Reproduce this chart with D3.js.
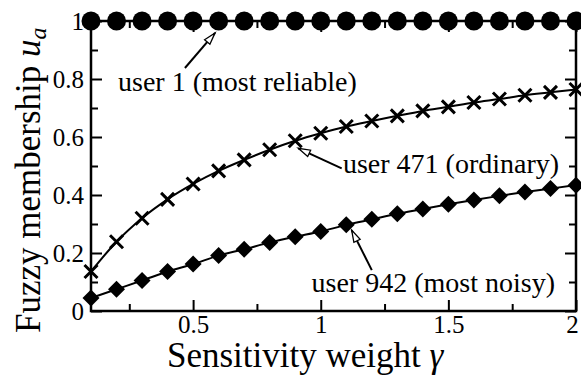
<!DOCTYPE html>
<html>
<head>
<meta charset="utf-8">
<script src="https://cdn.jsdelivr.net/npm/d3@7"></script>
<style>
  html, body { margin: 0; padding: 0; background: #fff; }
  svg { display: block; }
</style>
</head>
<body>
<svg id="chart" width="581" height="376"></svg>
<script>
// Sensitivity weight γ (x) and fuzzy membership of three users
const gamma = [0.1, 0.2, 0.3, 0.4, 0.5, 0.6, 0.7, 0.8, 0.9, 1.0,
               1.1, 1.2, 1.3, 1.4, 1.5, 1.6, 1.7, 1.8, 1.9, 2.0];
const user1 = [1, 1, 1, 1, 1, 1, 1, 1, 1, 1, 1, 1, 1, 1, 1, 1, 1, 1, 1, 1];
const user471 = [0.136, 0.239, 0.320, 0.385, 0.438, 0.483, 0.521, 0.556, 0.587, 0.613,
                 0.636, 0.655, 0.673, 0.690, 0.704, 0.719, 0.731, 0.744, 0.754, 0.764];
const user942 = [0.045, 0.075, 0.105, 0.136, 0.162, 0.191, 0.213, 0.236, 0.256, 0.274,
                 0.297, 0.316, 0.335, 0.352, 0.368, 0.383, 0.397, 0.410, 0.422, 0.434];

const xTicks = [0.5, 1, 1.5, 2];
const xMinor = [0.25, 0.75, 1.25, 1.75];
const yTicks = [0, 0.2, 0.4, 0.6, 0.8, 1];
const yMinor = [0.1, 0.3, 0.5, 0.7, 0.9];

// annotation labels: arrow tip, arrow tail and text anchor in data units
const labels = ["user 1 (most reliable)", "user 471 (ordinary)", "user 942 (most noisy)"];
const arrowTip = [[0.586, 0.959], [0.912, 0.561], [1.121, 0.279]];
const arrowTail = [[0.468, 0.838], [1.082, 0.492], [1.200, 0.141]];
const textAt = [[0.206, 0.760], [1.087, 0.475], [0.964, 0.067]];

const SERIF = "Liberation Serif";
const svg = d3.select("#chart").attr("font-family", SERIF);
const mLeft = 91, mRight = 576, mTop = 21, mBottom = 311;
const x = d3.scaleLinear().domain([0.1, 2]).range([mLeft, mRight]);
const y = d3.scaleLinear().domain([0, 1]).range([mBottom, mTop]);

// inward ticks on all four sides
const majorLen = 11, minorLen = 7;
function axisGroup(axis, tx, ty) {
  const g = svg.append("g").attr("transform", `translate(${tx},${ty})`).call(axis);
  g.attr("font-family", SERIF).attr("font-size", 25);
  g.selectAll(".domain").remove();
  g.selectAll(".tick line").attr("stroke", "#000").attr("stroke-width", 2);
  g.selectAll(".tick text").attr("fill", "#000").attr("font-family", SERIF).attr("font-size", 25);
  return g;
}
const fmt = d => d3.format("")(d);
// bottom
axisGroup(d3.axisBottom(x).tickValues(xMinor).tickSize(-minorLen).tickFormat(""), 0, mBottom);
const gxb = axisGroup(d3.axisBottom(x).tickValues(xTicks).tickSize(-majorLen).tickFormat(fmt).tickPadding(4), 0, mBottom);
// keep the last label inside the page edge
gxb.selectAll(".tick text").filter(d => d === xTicks[xTicks.length - 1]).attr("dx", -4);
// top
axisGroup(d3.axisTop(x).tickValues(xMinor).tickSize(-minorLen).tickFormat(""), 0, mTop);
axisGroup(d3.axisTop(x).tickValues(xTicks).tickSize(-majorLen).tickFormat(""), 0, mTop);
// left
axisGroup(d3.axisLeft(y).tickValues(yMinor).tickSize(-minorLen).tickFormat(""), mLeft, 0);
axisGroup(d3.axisLeft(y).tickValues(yTicks).tickSize(-majorLen).tickFormat(fmt).tickPadding(7), mLeft, 0);
// right
axisGroup(d3.axisRight(y).tickValues(yMinor).tickSize(-minorLen).tickFormat(""), mRight, 0);
axisGroup(d3.axisRight(y).tickValues(yTicks).tickSize(-majorLen).tickFormat(""), mRight, 0);

// frame
svg.append("rect")
  .attr("x", mLeft).attr("y", mTop)
  .attr("width", mRight - mLeft).attr("height", mBottom - mTop)
  .attr("fill", "none").attr("stroke", "#000").attr("stroke-width", 2.5);

// curves
const line = d3.line().x((d, i) => x(gamma[i])).y(d => y(d)).curve(d3.curveMonotoneX);
[user1, user471, user942].forEach(s => {
  svg.append("path").datum(s).attr("d", line)
    .attr("fill", "none").attr("stroke", "#000").attr("stroke-width", 2);
});

// markers: circles, crosses, diamonds
svg.append("g").selectAll("circle").data(user1).join("circle")
  .attr("cx", (d, i) => x(gamma[i])).attr("cy", d => y(d)).attr("r", 9.5).attr("fill", "#000");

const c = 6.5;
svg.append("g").selectAll("path").data(user471).join("path")
  .attr("d", (d, i) => {
    const px = x(gamma[i]), py = y(d);
    return `M${px - c},${py - c}L${px + c},${py + c}M${px - c},${py + c}L${px + c},${py - c}`;
  })
  .attr("stroke", "#000").attr("stroke-width", 3).attr("fill", "none");

const dm = 8.5;
svg.append("g").selectAll("path").data(user942).join("path")
  .attr("d", (d, i) => {
    const px = x(gamma[i]), py = y(d);
    return `M${px},${py - dm}L${px + dm},${py}L${px},${py + dm}L${px - dm},${py}Z`;
  })
  .attr("fill", "#000");

// annotation arrows with open heads
svg.append("defs").append("marker")
  .attr("id", "openhead").attr("viewBox", "-1 -5 15 10")
  .attr("refX", 12).attr("refY", 0)
  .attr("markerWidth", 15).attr("markerHeight", 10)
  .attr("markerUnits", "userSpaceOnUse").attr("orient", "auto")
  .append("path").attr("d", "M0,-3.5L12,0L0,3.5Z")
  .attr("fill", "#fff").attr("stroke", "#000").attr("stroke-width", 1.3);

labels.forEach((t, i) => {
  svg.append("line")
    .attr("x1", x(arrowTail[i][0])).attr("y1", y(arrowTail[i][1]))
    .attr("x2", x(arrowTip[i][0])).attr("y2", y(arrowTip[i][1]))
    .attr("stroke", "#000").attr("stroke-width", 2)
    .attr("marker-end", "url(#openhead)");
  svg.append("text")
    .attr("x", x(textAt[i][0])).attr("y", y(textAt[i][1]))
    .attr("font-family", SERIF).attr("font-size", 28).attr("fill", "#000").text(t);
});

// axis titles
svg.append("text")
  .attr("x", 167).attr("y", 367).attr("font-size", 35)
  .attr("font-family", SERIF).attr("fill", "#000")
  .text("Sensitivity weight ")
  .append("tspan").attr("font-style", "italic").text("γ");

const yl = svg.append("text")
  .attr("transform", "translate(40,333) rotate(-90)")
  .attr("font-size", 35).attr("font-family", SERIF).attr("fill", "#000")
  .text("Fuzzy membership ");
yl.append("tspan").attr("font-style", "italic").text("u");
yl.append("tspan").attr("font-style", "italic").attr("font-size", 24).attr("dy", 6).text("a");
</script>
</body>
</html>
